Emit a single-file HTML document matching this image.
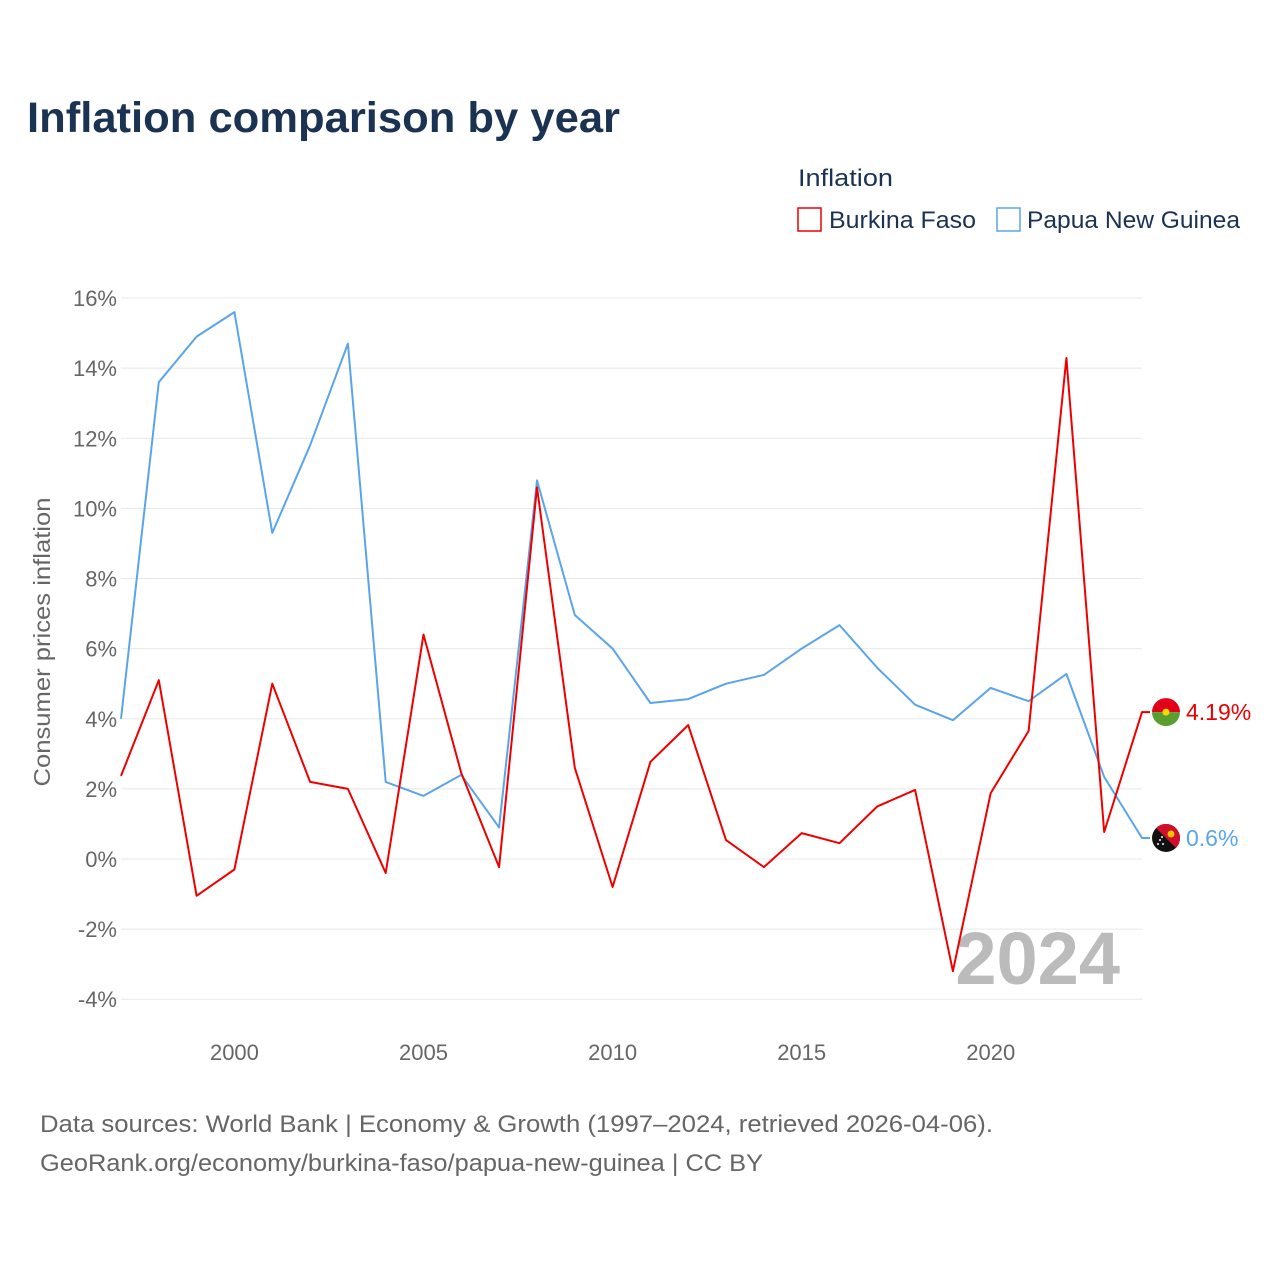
<!DOCTYPE html>
<html><head><meta charset="utf-8">
<style>
body{margin:0;background:#fff;font-family:"Liberation Sans",sans-serif;}
svg text{font-family:"Liberation Sans",sans-serif;}
</style></head>
<body>
<svg width="1280" height="1280" viewBox="0 0 1280 1280">
<text x="27" y="132" font-size="43" font-weight="bold" fill="#1b3353" textLength="593" lengthAdjust="spacingAndGlyphs">Inflation comparison by year</text>
<text x="798" y="186" font-size="24" fill="#1b3353" textLength="95" lengthAdjust="spacingAndGlyphs">Inflation</text>
<g>
<rect x="798" y="208" width="23" height="23" fill="none" stroke="#ee0000" stroke-width="1.5"/>
<text x="829" y="228" font-size="24" fill="#1b3353" textLength="147" lengthAdjust="spacingAndGlyphs">Burkina Faso</text></g>
<g>
<rect x="997" y="208" width="23" height="23" fill="none" stroke="#5aa5ea" stroke-width="1.5"/>
<text x="1027" y="228" font-size="24" fill="#1b3353" textLength="213" lengthAdjust="spacingAndGlyphs">Papua New Guinea</text></g>
<g id="grid"></g>
<g id="yticks"></g>
<g id="xticks"></g>
<text transform="translate(50,642) rotate(-90)" text-anchor="middle" font-size="23" fill="#666" textLength="289" lengthAdjust="spacingAndGlyphs">Consumer prices inflation</text>
<text x="1120" y="984" text-anchor="end" font-size="74" font-weight="bold" fill="#bbbbbb">2024</text>
<g id="series"></g>
<text x="40" y="1132" font-size="24.5" fill="#666" textLength="953" lengthAdjust="spacingAndGlyphs">Data sources: World Bank | Economy &amp; Growth (1997–2024, retrieved 2026-04-06).</text>
<text x="40" y="1171" font-size="24.5" fill="#666" textLength="723" lengthAdjust="spacingAndGlyphs">GeoRank.org/economy/burkina-faso/papua-new-guinea | CC BY</text>
</svg>
<script>
const years=[1997,1998,1999,2000,2001,2002,2003,2004,2005,2006,2007,2008,2009,2010,2011,2012,2013,2014,2015,2016,2017,2018,2019,2020,2021,2022,2023,2024];
const burkina=[2.37,5.1,-1.05,-0.3,5.0,2.2,2.0,-0.4,6.4,2.45,-0.23,10.6,2.6,-0.8,2.77,3.82,0.54,-0.23,0.74,0.45,1.5,1.97,-3.2,1.88,3.65,14.29,0.77,4.19];
const png=[4.0,13.6,14.9,15.6,9.3,11.8,14.7,2.2,1.8,2.4,0.9,10.8,6.96,6.0,4.45,4.56,5.0,5.25,6.0,6.67,5.45,4.4,3.96,4.88,4.5,5.28,2.34,0.6];
const yTicks=[-4,-2,0,2,4,6,8,10,12,14,16];
const xTicks=[2000,2005,2010,2015,2020];
const NS="http://www.w3.org/2000/svg";
const X=y=>121+(y-1997)*(1142-121)/27;
const Y=v=>859-v*35.06;
function mk(t,a,p){const e=document.createElementNS(NS,t);for(const k in a)e.setAttribute(k,a[k]);p.appendChild(e);return e;}
const grid=document.getElementById('grid'),yt=document.getElementById('yticks'),xt=document.getElementById('xticks'),ser=document.getElementById('series');
yTicks.forEach(v=>{
 const l=mk('line',{x1:121,x2:1142,y1:Y(v),y2:Y(v),stroke:'#e8e8e8','stroke-width':1},grid);
 
 
 const t=mk('text',{x:117,y:Y(v)+8,'text-anchor':'end','font-size':22,fill:'#666'},yt);
 t.textContent=v+'%';
 
 
});
xTicks.forEach(v=>{
 const t=mk('text',{x:X(v),y:1060,'text-anchor':'middle','font-size':22,fill:'#666'},xt);
 t.textContent=v;
 
 
});
function line(vals,col,name,label,flag){
 let d=vals.map((v,i)=>(i?'L':'M')+X(years[i]).toFixed(1)+','+Y(v).toFixed(1)).join(' ');
 const last=vals[vals.length-1];
 d+=' L'+(X(years[years.length-1])+8)+','+Y(last).toFixed(1);
 const p=mk('path',{d:d,fill:'none',stroke:col,'stroke-width':2,'stroke-linejoin':'round'},ser);
 
 
 const g=mk('g',{},ser);
 
 
 const cx=1166,cy=Y(last),r=14;
 if(flag==='bf'){
  mk('path',{d:`M${cx-r},${cy} A${r},${r} 0 0 1 ${cx+r},${cy} Z`,fill:'#e3001b'},g);
  mk('path',{d:`M${cx-r},${cy} A${r},${r} 0 0 0 ${cx+r},${cy} Z`,fill:'#5a9e2f'},g);
  mk('circle',{cx:cx,cy:cy,r:3.5,fill:'#f5d800'},g);
 }else{
  mk('circle',{cx:cx,cy:cy,r:r,fill:'#111'},g);
  const a=r*0.7071;
  mk('path',{d:`M${cx-a},${cy-a} A${r},${r} 0 0 1 ${cx+a},${cy+a} Z`,fill:'#d0102a'},g);
  mk('circle',{cx:cx+5,cy:cy-4,r:3.5,fill:'#f5c400'},g);
  [[-6,2],[-3,6],[-8,6],[-4,-1]].forEach(s=>mk('circle',{cx:cx+s[0],cy:cy+s[1],r:1,fill:'#fff'},g));
 }
 const t=mk('text',{x:1186,y:Y(last)+8,'font-size':23,fill:col},ser);
 t.textContent=label;
 
 
}
line(png,'#5aa5ea','papua-new-guinea',png[png.length-1]+'%','png');
line(burkina,'#ee0000','burkina-faso',burkina[burkina.length-1]+'%','bf');
</script>
</body></html>
